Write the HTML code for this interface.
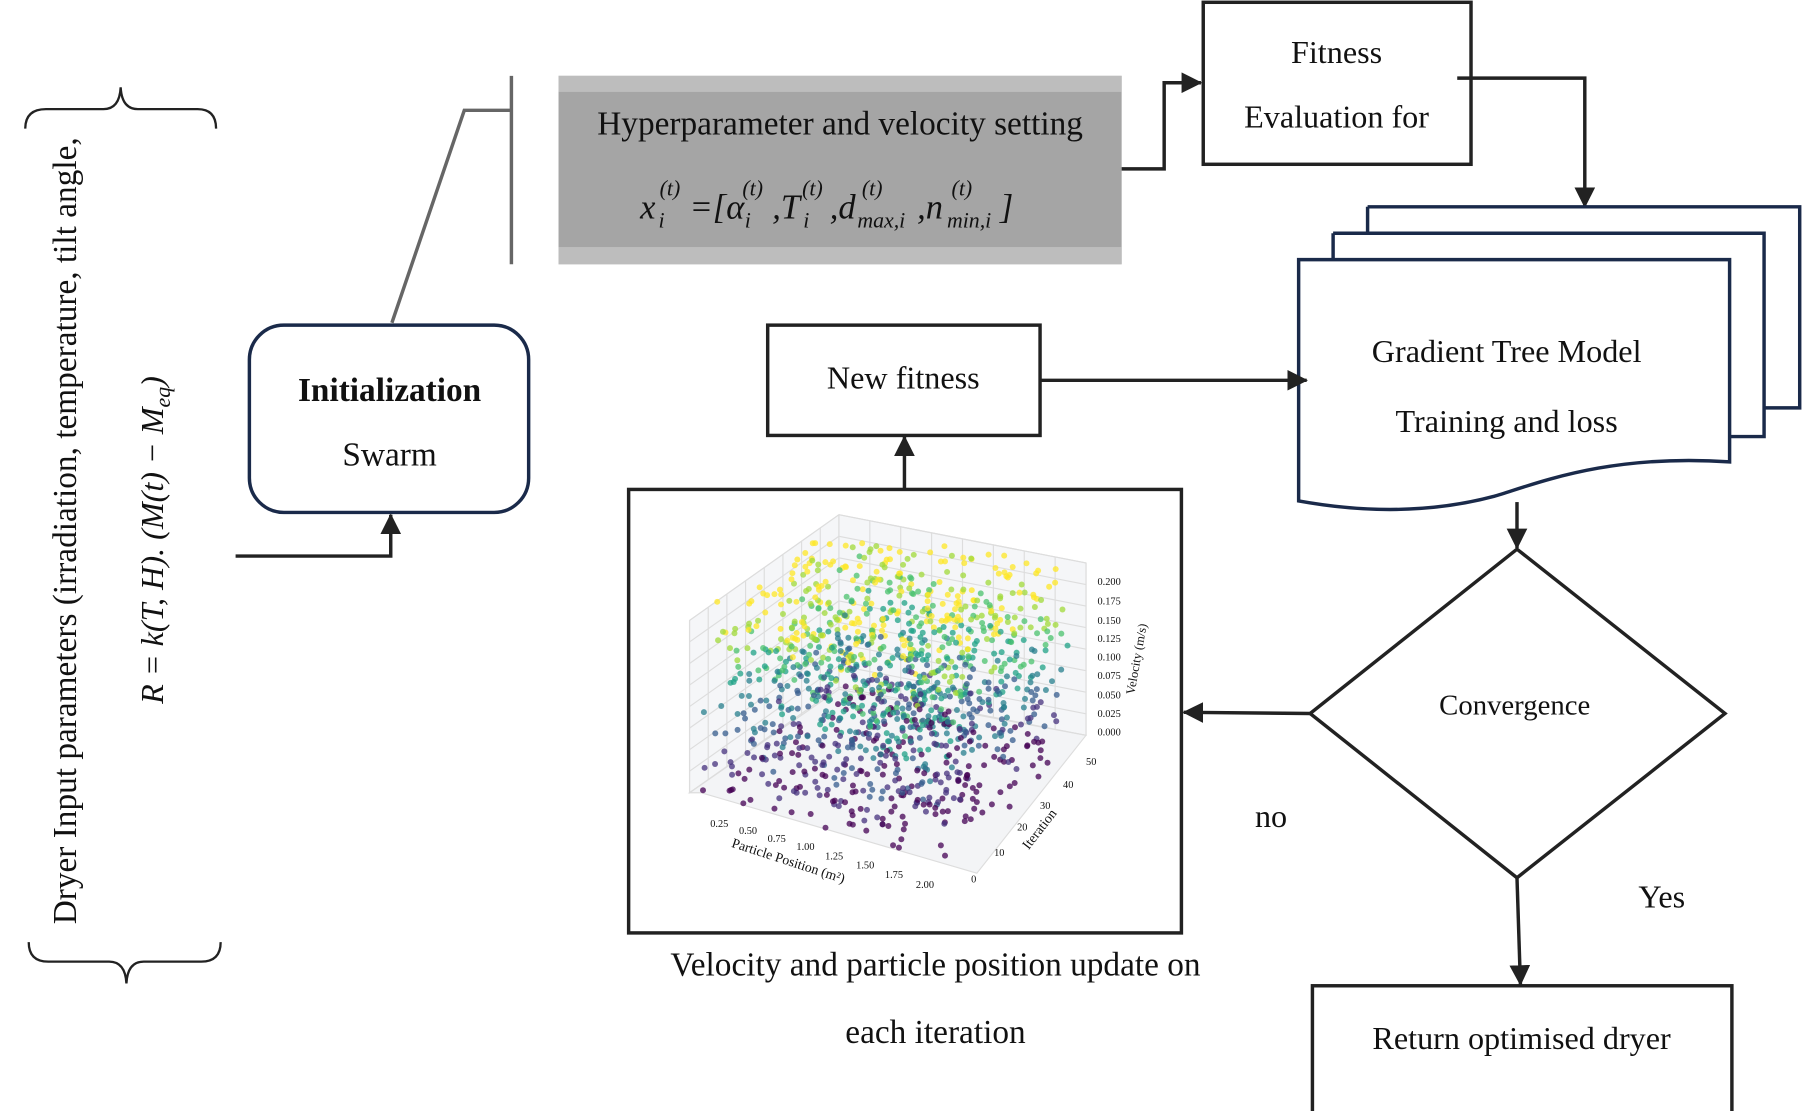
<!DOCTYPE html>
<html><head><meta charset="utf-8"><style>
html,body{margin:0;padding:0;background:#fff;}
svg{display:block;}
text{font-family:"Liberation Serif",serif;fill:#111;}
</style></head><body>
<svg id="s" width="1802" height="1111" viewBox="0 0 1568 967" preserveAspectRatio="none" xmlns="http://www.w3.org/2000/svg">
<defs>
<marker id="a" markerWidth="18" markerHeight="18" refX="15" refY="8" orient="auto" markerUnits="userSpaceOnUse" viewBox="0 0 16 16"><path d="M0,0 L16,8 L0,16 z" fill="#222"/></marker>
</defs>
<rect width="1568" height="967" fill="#fff"/>
<path d="M22,112 Q22,95 40,95 L90,95 Q104,95 105,76 Q106,95 120,95 L172,95 Q188,95 188,112" fill="none" stroke="#222" stroke-width="2"/>
<path d="M25,820 Q25,837 42,837 L95,837 Q109,837 110,856 Q111,837 125,837 L175,837 Q192,837 192,820" fill="none" stroke="#222" stroke-width="2"/>
<text transform="translate(66,462) rotate(-90)" text-anchor="middle" font-size="29">Dryer Input parameters (irradiation, temperature, tilt angle,</text>
<text transform="translate(142,470) rotate(-90)" text-anchor="middle" font-size="28" font-style="italic">R = k(T, H). (M(t) − M<tspan font-size="19" dy="6">eq</tspan><tspan dy="-6">)</tspan></text>
<polyline points="205,484 340,484 340,448" fill="none" stroke="#222" stroke-width="3" marker-end="url(#a)"/>
<rect x="217" y="283" width="243" height="163" rx="30" fill="#fff" stroke="#1a2a4a" stroke-width="3"/>
<text x="339" y="349" text-anchor="middle" font-size="29" font-weight="bold">Initialization</text>
<text x="339" y="405" text-anchor="middle" font-size="29">Swarm</text>
<polyline points="341,281 404,96 444,96" fill="none" stroke="#666" stroke-width="3"/>
<line x1="445" y1="66" x2="445" y2="230" stroke="#666" stroke-width="3"/>
<rect x="486" y="66" width="490" height="164" fill="#a5a5a5"/>
<rect x="486" y="66" width="490" height="14" fill="#bdbdbd"/>
<rect x="486" y="215" width="490" height="15" fill="#bdbdbd"/>
<text x="731" y="117" text-anchor="middle" font-size="29">Hyperparameter and velocity setting</text>
<g font-style="italic" font-size="30">
<text x="557" y="190">x</text><text x="573" y="198" font-size="19">i</text><text x="574" y="170" font-size="19">(t)</text>
<text x="600" y="190">=[α</text><text x="648" y="198" font-size="19">i</text><text x="646" y="170" font-size="19">(t)</text>
<text x="672" y="190">,T</text><text x="699" y="198" font-size="19">i</text><text x="698" y="170" font-size="19">(t)</text>
<text x="722" y="190">,d</text><text x="746" y="198" font-size="19">max,i</text><text x="750" y="170" font-size="19">(t)</text>
<text x="798" y="190">,n</text><text x="824" y="198" font-size="19">min,i</text><text x="828" y="170" font-size="19">(t)</text>
<text x="870" y="190">]</text>
</g>
<polyline points="976,147 1013,147 1013,72 1045,72" fill="none" stroke="#222" stroke-width="3" marker-end="url(#a)"/>
<rect x="1047" y="2" width="233" height="141" fill="#fff" stroke="#222" stroke-width="3"/>
<text x="1163" y="55" text-anchor="middle" font-size="28">Fitness</text>
<text x="1163" y="111" text-anchor="middle" font-size="28">Evaluation for</text>
<polyline points="1268,68 1379,68 1379,180" fill="none" stroke="#222" stroke-width="3" marker-end="url(#a)"/>
<path d="M1190,180 L1566,180 L1566,355 L1535,355" fill="#fff" stroke="#1a2a4a" stroke-width="3"/>
<path d="M1160,203 L1535,203 L1535,380 L1505,380" fill="#fff" stroke="#1a2a4a" stroke-width="3"/>
<path d="M1190,180 L1190,203 M1160,203 L1160,226" stroke="#1a2a4a" stroke-width="3"/>
<path d="M1130,226 L1505,226 L1505,402 C1400,395 1340,420 1300,432 C1240,448 1180,445 1130,436 Z" fill="#fff" stroke="#1a2a4a" stroke-width="3"/>
<text x="1311" y="315" text-anchor="middle" font-size="28">Gradient Tree Model</text>
<text x="1311" y="376" text-anchor="middle" font-size="28">Training and loss</text>
<rect x="668" y="283" width="237" height="96" fill="#fff" stroke="#222" stroke-width="3"/>
<text x="786" y="338" text-anchor="middle" font-size="28">New fitness</text>
<line x1="905" y1="331" x2="1137" y2="331" stroke="#222" stroke-width="3" marker-end="url(#a)"/>
<line x1="787" y1="425" x2="787" y2="380" stroke="#222" stroke-width="3" marker-end="url(#a)"/>
<rect x="547" y="426" width="481" height="386" fill="#fff" stroke="#222" stroke-width="3"/>
<g id="plot" stroke="#ddd" stroke-width="1" fill="none">
<path d="M600,540 L730,448 L945,490 L945,640 L730,600 L600,690 Z" fill="#f5f6f8"/>
<path d="M600,690 L730,600 L945,640 L850,760 L610,690 Z" fill="#f3f4f6"/>
</g>
<g id="pts"></g>
<g font-size="9" fill="#333">
<text x="955" y="509" font-family="Liberation Sans">0.200</text><text x="955" y="526" font-family="Liberation Sans">0.175</text><text x="955" y="543" font-family="Liberation Sans">0.150</text><text x="955" y="559" font-family="Liberation Sans">0.125</text><text x="955" y="575" font-family="Liberation Sans">0.100</text><text x="955" y="591" font-family="Liberation Sans">0.075</text><text x="955" y="608" font-family="Liberation Sans">0.050</text><text x="955" y="624" font-family="Liberation Sans">0.025</text><text x="955" y="640" font-family="Liberation Sans">0.000</text>
<text x="618" y="720" font-family="Liberation Sans">0.25</text><text x="643" y="726" font-family="Liberation Sans">0.50</text><text x="668" y="733" font-family="Liberation Sans">0.75</text><text x="693" y="740" font-family="Liberation Sans">1.00</text><text x="718" y="748" font-family="Liberation Sans">1.25</text><text x="745" y="756" font-family="Liberation Sans">1.50</text><text x="770" y="764" font-family="Liberation Sans">1.75</text><text x="797" y="773" font-family="Liberation Sans">2.00</text>
<text x="845" y="768" font-family="Liberation Sans">0</text><text x="865" y="745" font-family="Liberation Sans">10</text><text x="885" y="723" font-family="Liberation Sans">20</text><text x="905" y="704" font-family="Liberation Sans">30</text><text x="925" y="686" font-family="Liberation Sans">40</text><text x="945" y="666" font-family="Liberation Sans">50</text>
<text transform="translate(636,737) rotate(18)" font-size="12" font-family="Liberation Sans">Particle Position (m²)</text>
<text transform="translate(895,740) rotate(-52)" font-size="12" font-family="Liberation Sans">Iteration</text>
<text transform="translate(987,605) rotate(-80)" font-size="11" font-family="Liberation Sans">Velocity (m/s)</text>
</g>
<line x1="1320" y1="437" x2="1320" y2="477" stroke="#222" stroke-width="3" marker-end="url(#a)"/>
<polygon points="1320,478 1501,621 1320,764 1140,621" fill="#fff" stroke="#222" stroke-width="3"/>
<text x="1318" y="622" text-anchor="middle" font-size="25">Convergence</text>
<line x1="1140" y1="621" x2="1030" y2="620" stroke="#222" stroke-width="3" marker-end="url(#a)"/>
<text x="1106" y="720" text-anchor="middle" font-size="28">no</text>
<text x="1446" y="790" text-anchor="middle" font-size="28">Yes</text>
<line x1="1320" y1="764" x2="1323" y2="857" stroke="#222" stroke-width="3" marker-end="url(#a)"/>
<rect x="1142" y="858" width="365" height="112" fill="#fff" stroke="#222" stroke-width="3"/>
<text x="1324" y="913" text-anchor="middle" font-size="28">Return optimised dryer</text>
<text x="814" y="849" text-anchor="middle" font-size="29">Velocity and particle position update on</text>
<text x="814" y="908" text-anchor="middle" font-size="29">each iteration</text>
</svg>
<script>
(function(){
var g=document.getElementById('plot'),p=document.getElementById('pts'),ns='http://www.w3.org/2000/svg';
function L(a,b,c,d){var l=document.createElementNS(ns,'line');l.setAttribute('x1',a);l.setAttribute('y1',b);l.setAttribute('x2',c);l.setAttribute('y2',d);g.appendChild(l);}
for(var i=0;i<=8;i++){var t=i/8;L(600+130*t,540-92*t,600+130*t,690-90*t);L(730+215*t,448+42*t,730+215*t,600+40*t);}
for(var j=0;j<=8;j++){var y=j*18.75;L(600,540+y,730,448+y);L(730,448+y,945,490+y);}
var s=12345;function r(){s=(s*1103515245+12345)%2147483648;return s/2147483648;}
var cols=['#440154','#46327e','#365c8d','#277f8e','#1fa187','#4ac16d','#a0da39','#fde725'];
for(var k=0;k<1300;k++){var u=r(),v=r(),w=r();
var x=610+u*200+v*130, y=700-v*95+u*55 - w*170;
if(y<470||x>940)continue;
var c=cols[Math.min(7,Math.floor(w*8))];
var e=document.createElementNS(ns,'circle');e.setAttribute('cx',x.toFixed(1));e.setAttribute('cy',y.toFixed(1));e.setAttribute('r',2.6);e.setAttribute('fill',c);e.setAttribute('opacity',0.75);p.appendChild(e);}
})();
</script>
</body></html>
